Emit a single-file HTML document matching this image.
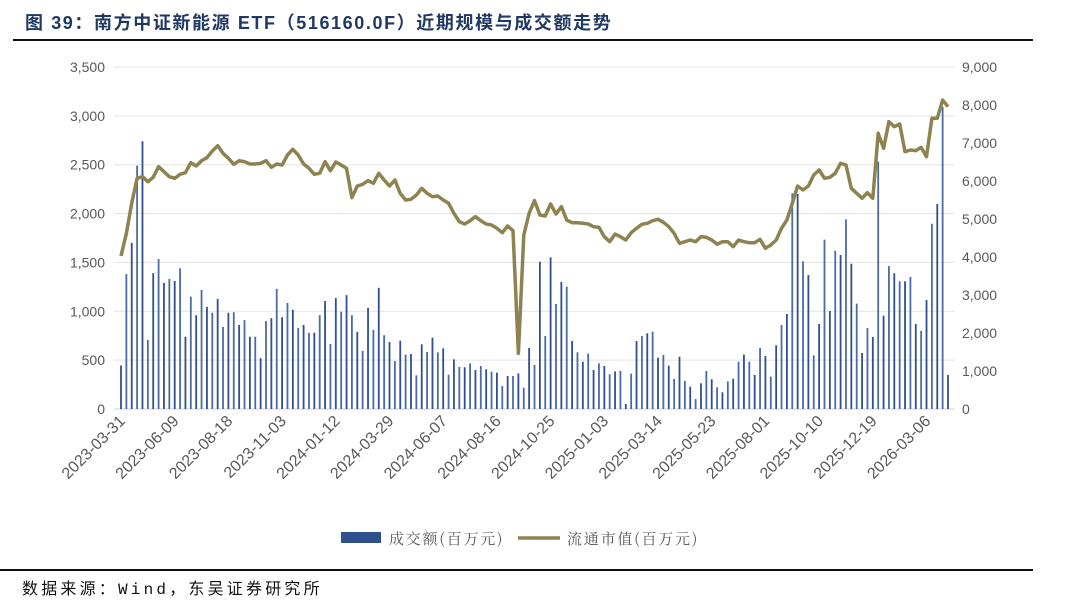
<!DOCTYPE html>
<html><head><meta charset="utf-8">
<style>
html,body{margin:0;padding:0;background:#fff;}
body{width:1080px;height:601px;position:relative;overflow:hidden;font-family:"Liberation Sans","Noto Sans CJK SC",sans-serif;}
</style></head>
<body>
<div style="position:absolute;left:25px;top:9px;font-size:18px;font-weight:bold;color:#1f3864;letter-spacing:1.6px;font-family:'Liberation Sans','Noto Sans CJK SC',sans-serif;white-space:nowrap;">图 39：南方中证新能源 ETF（516160.0F）近期规模与成交额走势</div>
<div style="position:absolute;left:13px;top:39px;width:1020px;height:2px;background:#111;"></div>
<svg id="chart" width="1080" height="601" style="position:absolute;left:0;top:0;"></svg>
<div style="position:absolute;left:0;top:569px;width:1033px;height:2px;background:#111;"></div>
<div style="position:absolute;left:22px;top:575px;font-size:16px;letter-spacing:3.2px;color:#111;font-family:'Liberation Mono','Noto Sans CJK SC',monospace;white-space:nowrap;">数据来源：Wind，东吴证券研究所</div>
<script>
const startDate = "2023-03-31";
const tickLabels = ["2023-03-31","2023-06-09","2023-08-18","2023-11-03","2024-01-12","2024-03-29","2024-06-07","2024-08-16","2024-10-25","2025-01-03","2025-03-14","2025-05-23","2025-08-01","2025-10-10","2025-12-19","2026-03-06"];
const leftTicks = [0,500,1000,1500,2000,2500,3000,3500];
const rightTicks = [0,1000,2000,3000,4000,5000,6000,7000,8000,9000];
const volume = [445,1380,1700,2490,2740,706,1390,1535,1290,1330,1310,1440,740,1150,960,1220,1045,985,1125,840,985,990,860,910,740,740,520,900,930,1230,940,1085,1015,830,860,780,780,960,1105,665,1135,995,1165,960,790,595,1035,810,1240,755,685,490,
699,556,563,345,662,583,730,580,621,351,508,430,427,467,399,440,406,382,372,235,338,338,365,218,624,450,1508,747,1552,1075,1300,1252,696,580,484,566,399,467,440,355,385,389,51,361,696,747,775,791,525,553,443,307,535,
287,228,102,263,389,304,222,171,283,310,484,556,484,348,624,542,331,652,860,972,2207,2200,1511,1371,549,870,1733,1003,1620,1576,1941,1487,1078,573,829,737,2531,955,1463,1389,1307,1307,1351,870,801,1115,1896,2098,3094,348];
const marketValue = [4026,4623,5413,6071,6114,5982,6097,6377,6245,6114,6071,6176,6219,6482,6395,6535,6614,6789,6930,6728,6597,6439,6535,6508,6447,6447,6465,6535,6360,6447,6421,6684,6833,6684,6447,6333,6176,6202,6508,6272,6500,6421,6333,5561,5868,5912,6009,5939,6202,6026,5868,6026,
5675,5500,5518,5632,5807,5675,5588,5605,5500,5412,5149,4930,4868,4956,5061,4956,4868,4842,4754,4640,4816,4693,1466,4579,5149,5483,5105,5079,5395,5132,5325,4974,4903,4903,4886,4868,4798,4781,4535,4403,4605,4535,4447,4640,4754,4860,4886,4956,4991,4912,4798,4623,4360,
4403,4447,4403,4535,4518,4447,4333,4403,4403,4272,4447,4403,4377,4377,4465,4228,4316,4447,4754,4974,5412,5868,5763,5868,6158,6289,6070,6097,6202,6465,6421,5807,5675,5544,5693,5544,7255,6860,7561,7430,7500,6772,6816,6798,6886,6640,7649,7649,8132,7956];

const svg = document.getElementById('chart');
const NS = 'http://www.w3.org/2000/svg';
const X0 = 121, X1 = 948, YT = 67, YB = 409;
const n = volume.length;
function xPos(i){ return X0 + (X1 - X0) * i / (n - 1); }
function yL(v){ return YB - (YB - YT) * v / 3500; }
function yR(v){ return YB - (YB - YT) * v / 9000; }
function mk(tag, attrs){ const e = document.createElementNS(NS, tag); for (const k in attrs) e.setAttribute(k, attrs[k]); svg.appendChild(e); return e; }
function fmt(v){ return v.toLocaleString('en-US'); }

leftTicks.forEach(v => {
  const y = yL(v);
  const g = mk('line', {x1:114, x2:955, y1:y, y2:y, stroke: v===0 ? '#d0d0d0' : '#e3e3e3', 'stroke-width':1});
  
  
  const t = mk('text', {x:105, y:y+5, 'text-anchor':'end', 'font-size':14, fill:'#595959', 'font-family':'Liberation Sans, sans-serif'});
  t.textContent = fmt(v);
  
  
});
rightTicks.forEach(v => {
  const y = yR(v);
  const t = mk('text', {x:962, y:y+5, 'text-anchor':'start', 'font-size':14, fill:'#595959', 'font-family':'Liberation Sans, sans-serif'});
  t.textContent = fmt(v);
  
  
});
volume.forEach((v, i) => {
  const x = xPos(i);
  const r = mk('rect', {x:x-0.9, y:yL(v), width:1.8, height:YB - yL(v), fill: i%2 ? '#4a6ba6' : '#2f4f8f'});
  
  
});
const pts = marketValue.map((v, i) => xPos(i).toFixed(1) + ',' + yR(v).toFixed(1)).join(' ');
const pl = mk('polyline', {points:pts, fill:'none', stroke:'#8e8350', 'stroke-width':3.5, 'stroke-linejoin':'round'});


tickLabels.forEach((lab, k) => {
  const x = xPos(k * 10) + 5;
  const y = 422;
  const t = mk('text', {x:x, y:y, 'text-anchor':'end', 'font-size':16, fill:'#595959', transform:'rotate(-45 ' + x + ' ' + y + ')', 'font-family':'Liberation Sans, sans-serif'});
  t.textContent = lab;
  
  
});
const ls1 = mk('rect', {x:341, y:532, width:40, height:11, fill:'#2f4f8f'});


const lt1 = mk('text', {x:389, y:544, 'font-size':15, fill:'#595959', 'font-family':'Noto Serif CJK SC, serif', 'letter-spacing':'1.8'});
lt1.textContent = '成交额(百万元)';


const ls2 = mk('line', {x1:518, x2:560, y1:538, y2:538, stroke:'#8e8350', 'stroke-width':3.5});


const lt2 = mk('text', {x:567, y:544, 'font-size':15, fill:'#595959', 'font-family':'Noto Serif CJK SC, serif', 'letter-spacing':'1.8'});
lt2.textContent = '流通市值(百万元)';


</script>
</body></html>
